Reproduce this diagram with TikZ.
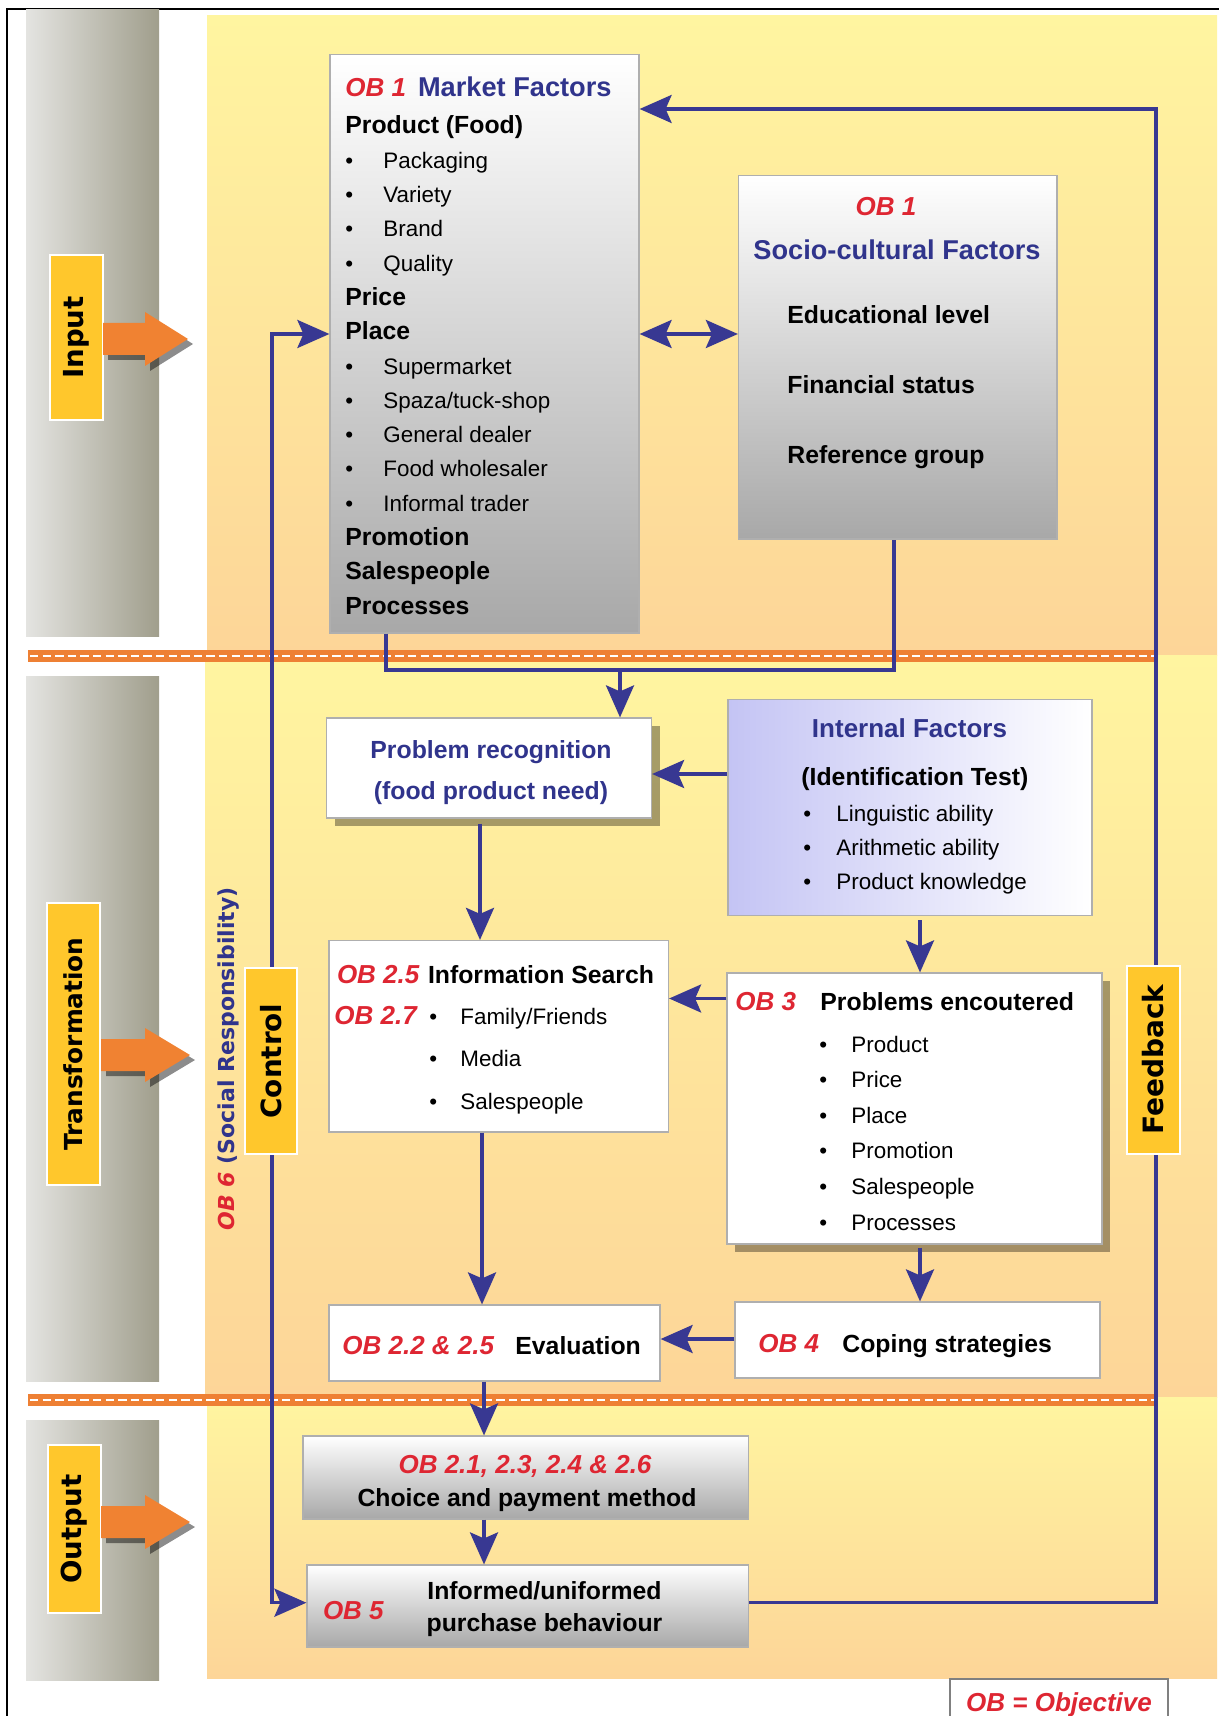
\documentclass[tikz,border=0pt]{standalone}
\usepackage{fontspec}
\setmainfont{Liberation Sans}
\newfontfamily\djv{DejaVu Sans}
\usetikzlibrary{arrows.meta,shadows,fit}

\definecolor{obred}{RGB}{222,38,50}
\definecolor{obblue}{RGB}{48,52,140}
\definecolor{lnblue}{RGB}{56,56,146}
\definecolor{lblyel}{RGB}{255,199,44}
\definecolor{orng}{RGB}{240,130,50}
\definecolor{sepor}{RGB}{238,128,52}
\definecolor{bgtop}{RGB}{255,245,160}
\definecolor{bgbot}{RGB}{253,213,152}
\definecolor{grL}{RGB}{228,228,225}
\definecolor{grR}{RGB}{160,158,140}
\definecolor{boxg}{RGB}{168,168,168}
\definecolor{lav}{RGB}{196,196,244}
\definecolor{edge}{RGB}{175,175,175}

\newcommand\fT{\fontsize{13.6pt}{17pt}\selectfont\bfseries}
\newcommand\fH{\fontsize{12.4pt}{17.15pt}\selectfont\bfseries}
\newcommand\fI{\fontsize{11.2pt}{17.15pt}\selectfont\mdseries}
\newcommand\obr[1]{{\fontsize{13pt}{15pt}\selectfont\bfseries\itshape\color{obred}#1}}
\newcommand\bu[1]{\makebox[#1][l]{\textbullet}}

\begin{document}
\begin{tikzpicture}[x=0.5pt, y=-0.5pt,
 ln/.style={draw=lnblue, line width=1.7pt},
 fl/.style={ln, -{Stealth[length=16pt,width=14pt,inset=3pt]}},
 dfl/.style={ln, {Stealth[length=16pt,width=14pt,inset=3pt]}-{Stealth[length=16pt,width=14pt,inset=3pt]}},
 gbox/.style={draw=edge, line width=0.6pt, top color=white, bottom color=boxg, inner sep=0pt},
 wbox/.style={draw=edge, line width=0.6pt, fill=white, inner sep=0pt},
 shbox/.style={wbox, drop shadow={shadow xshift=4pt, shadow yshift=-4pt, opacity=0.35, fill=black}},
 lbl/.style={fill=lblyel, draw=white, line width=1pt, inner sep=0pt},
 lbltxt/.style={inner sep=0pt, rotate=90},
 tx/.style={inner sep=0pt, anchor=base west},
 txc/.style={inner sep=0pt, anchor=base},
 sepband/.style={draw=sepor, line width=6pt},
 sepdash/.style={draw=white, line width=1.4pt, dash pattern=on 4.2pt off 2.1pt},
 oarr/.style={fill=orng, drop shadow={shadow xshift=2.5pt, shadow yshift=-2.5pt, opacity=0.45, fill=black}}
]
\useasboundingbox (0,0) rectangle (1219,1716);
\fill[white] (0,0) rectangle (1219,1716);

% border
\draw[black, line width=1pt] (7,1716) -- (7,9) -- (1219,9);

% background bands
\shade[top color=bgtop, bottom color=bgbot] (207,16) rectangle (1217,655);
\shade[top color=bgtop, bottom color=bgbot] (205,655) rectangle (1217,1397);
\shade[top color=bgtop, bottom color=bgbot] (207,1397) rectangle (1217,1678);

% grey bars
\shade[left color=grL, right color=grR] (26,10) rectangle (159,636);
\shade[left color=grL, right color=grR] (26,676) rectangle (159,1381);
\shade[left color=grL, right color=grR] (26,1420) rectangle (159,1680);

% separators
\draw[sepband] (28,656) -- (1157,656);
\draw[sepdash] (30,656) -- (1157,656);
\draw[sepband] (28,1400) -- (1157,1400);
\draw[sepdash] (30,1400) -- (1157,1400);

% stage labels
\node[lbl, fit={(50,255) (103,420)}] (inp) {};
\node[lbltxt] (inptxt) at (inp.center) {\djv\bfseries\fontsize{13.8pt}{16pt}\selectfont Input};
\node[lbl, fit={(47,903) (100,1185)}] (trn) {};
\node[lbltxt] (trntxt) at (trn.center) {\djv\bfseries\fontsize{12.4pt}{16pt}\selectfont Transformation};
\node[lbl, fit={(48,1445) (101,1613)}] (out) {};
\node[lbltxt] (outtxt) at (out.center) {\djv\bfseries\fontsize{13.8pt}{16pt}\selectfont Output};

% orange arrows
\fill[oarr] (103,339) ++(0,-16) -- ++(42,0) -- ++(0,-11) -- ++(43,27) -- ++(-43,27) -- ++(0,-11) -- ++(-42,0) -- cycle;
\fill[oarr] (101,1055) ++(0,-16) -- ++(44,0) -- ++(0,-11) -- ++(45,27) -- ++(-45,27) -- ++(0,-11) -- ++(-44,0) -- cycle;
\fill[oarr] (101,1522) ++(0,-16) -- ++(44,0) -- ++(0,-11) -- ++(45,27) -- ++(-45,27) -- ++(0,-11) -- ++(-44,0) -- cycle;

% boxes
\node[gbox, fit={(330,54.5) (639,633)}] (mkt) {};
\node[gbox, fit={(738.5,175.5) (1057,539)}] (soc) {};
\node[shbox, fit={(326.5,718) (651.5,818)}] (prob) {};
\node[draw=edge, line width=0.6pt, left color=lav, right color=white, inner sep=0pt, fit={(728,699.5) (1092,915.5)}] (intf) {};
\node[wbox, fit={(329,940.5) (668.5,1132)}] (info) {};
\node[shbox, fit={(727,973) (1102,1244)}] (probs) {};
\node[wbox, fit={(329,1305) (660,1381)}] (eval) {};
\node[wbox, fit={(735,1302) (1100,1378)}] (cope) {};
\node[gbox, fit={(303,1436) (748.6,1519)}] (choice) {};
\node[gbox, fit={(307,1565) (748.6,1647)}] (inf) {};
\node[draw=gray, line width=0.8pt, fill=white, inner sep=0pt, fit={(950,1679) (1168,1724)}] (obj) {};

% market factors text
\node[tx] (mkttitle) at (345,96.5) {\fT\obr{OB 1}\hspace{6pt}{\color{obblue}Market Factors}};
\node[tx] (mktlist) at (345,134) {\parbox[t]{150pt}{\raggedright\lineskiplimit=-30pt
\fH Product (Food)\par
\fI\bu{19pt}Packaging\par
\fI\bu{19pt}Variety\par
\fI\bu{19pt}Brand\par
\fI\bu{19pt}Quality\par
\fH Price\par
\fH Place\par
\fI\bu{19pt}Supermarket\par
\fI\bu{19pt}Spaza/tuck-shop\par
\fI\bu{19pt}General dealer\par
\fI\bu{19pt}Food wholesaler\par
\fI\bu{19pt}Informal trader\par
\fH Promotion\par
\fH Salespeople\par
\fH Processes}};

% socio-cultural text
\node[txc] (socob) at (886,216) {\obr{OB 1}};
\node[txc] (soctitle) at (897,260) {\fT\color{obblue}Socio-cultural Factors};
\node[tx] (soc1) at (787,324) {\fH Educational level};
\node[tx] (soc2) at (787,394) {\fH Financial status};
\node[tx] (soc3) at (787,464) {\fH Reference group};

% problem recognition
\node[txc] (prob1) at (491,758) {\fH\color{obblue}Problem recognition};
\node[txc] (prob2) at (491,799) {\fH\color{obblue}(food product need)};

% internal factors
\node[txc] (intf1) at (909.5,737) {\fontsize{13pt}{16pt}\selectfont\bfseries\color{obblue}Internal Factors};
\node[tx] (intf2) at (801,785) {\fH (Identification Test)};
\node[tx] (intf3) at (803,821) {\parbox[t]{150pt}{\raggedright\fontsize{11.2pt}{17pt}\selectfont\lineskiplimit=-30pt
\bu{16.5pt}Linguistic ability\par
\bu{16.5pt}Arithmetic ability\par
\bu{16.5pt}Product knowledge}};

% information search
\node[tx] (info1) at (336.6,983) {\obr{OB 2.5}};
\node[tx] (info2) at (427.6,983) {\fH Information Search};
\node[tx] (info3) at (334,1024) {\obr{OB 2.7}};
\node[tx] (info4) at (429,1024) {\parbox[t]{120pt}{\raggedright\fontsize{11.2pt}{21.25pt}\selectfont\lineskiplimit=-30pt
\bu{15.5pt}Family/Friends\par
\bu{15.5pt}Media\par
\bu{15.5pt}Salespeople}};

% problems encountered
\node[tx] (probs1) at (735,1010) {\obr{OB 3}};
\node[tx] (probs2) at (820,1010) {\fH Problems encoutered};
\node[tx] (probs3) at (819,1052) {\parbox[t]{120pt}{\raggedright\fontsize{11.2pt}{17.8pt}\selectfont\lineskiplimit=-30pt
\bu{16pt}Product\par
\bu{16pt}Price\par
\bu{16pt}Place\par
\bu{16pt}Promotion\par
\bu{16pt}Salespeople\par
\bu{16pt}Processes}};

% evaluation and coping
\node[tx] (eval1) at (342,1354) {\obr{OB 2.2 \& 2.5}};
\node[tx] (eval2) at (515,1354) {\fH Evaluation};
\node[tx] (cope1) at (758,1352) {\obr{OB 4}};
\node[tx] (cope2) at (842,1352) {\fH Coping strategies};

% output boxes
\node[txc] (choice1) at (525,1473) {\obr{OB 2.1, 2.3, 2.4 \& 2.6}};
\node[txc] (choice2) at (527,1506) {\fH Choice and payment method};
\node[tx] (inf1) at (322.6,1619) {\obr{OB 5}};
\node[txc] (inf2) at (544.5,1599) {\fH Informed/uniformed};
\node[txc] (inf3) at (544.5,1631) {\fH purchase behaviour};
\node[txc] (objtxt) at (1059,1711) {\obr{OB = Objective}};

% connectors
\coordinate (fbA) at (1156,1602.7);
\coordinate (fbB) at (1156,109);
\draw[fl] (inf.east |- fbA) -- (fbA) -- (fbB) -- (mkt.east |- fbB);
\coordinate (ctA) at (272,334);
\coordinate (ctB) at (272,1602.7);
\draw[dfl] (mkt.west |- ctA) -- (ctA) -- (ctB) -- (inf.west |- ctB);
\draw[dfl] (mkt.east |- ctA) -- (soc.west |- ctA);
\coordinate (mgL) at (386,670);
\coordinate (mgR) at (894,670);
\coordinate (mgM) at (620,670);
\draw[ln] (mkt.south -| mgL) -- (mgL) -- (mgR) -- (soc.south -| mgR);
\draw[fl] (mgM) -- (prob.north -| mgM);
\draw[fl] (intf.west |- 0,774) -- (prob.east |- 0,774);
\draw[fl] ([yshift=-2.5pt]prob.south -| 480,0) -- (info.north -| 480,0);
\draw[fl] ([yshift=-2pt]intf.south -| 920,0) -- (probs.north -| 920,0);
\draw[fl] (probs.west |- 0,998.5) -- (info.east |- 0,998.5);
\draw[fl] (info.south -| 482,0) -- (eval.north -| 482,0);
\draw[fl] ([yshift=-1.5pt]probs.south -| 920,0) -- (cope.north -| 920,0);
\draw[fl] (cope.west |- 0,1339) -- (eval.east |- 0,1339);
\draw[fl] (eval.south -| 484,0) -- (choice.north -| 484,0);
\draw[fl] (choice.south -| 484,0) -- (inf.north -| 484,0);

% control / feedback labels
\node[lbl, fit={(245,968) (297,1154)}] (ctrl) {};
\node[lbltxt] (ctrltxt) at (ctrl.center) {\djv\bfseries\fontsize{13.9pt}{16pt}\selectfont Control};
\node[lbl, fit={(1127,966) (1180,1153.5)}] (fb) {};
\node[lbltxt] (fbtxt) at (fb.center) {\djv\bfseries\fontsize{14pt}{16pt}\selectfont Feedback};
\node[lbltxt] (ob6) at (229,1058.75) {\djv\bfseries\fontsize{11pt}{14pt}\selectfont{\itshape\color{obred}OB 6} {\color{obblue}(Social Responsibility)}};
\end{tikzpicture}
\end{document}
